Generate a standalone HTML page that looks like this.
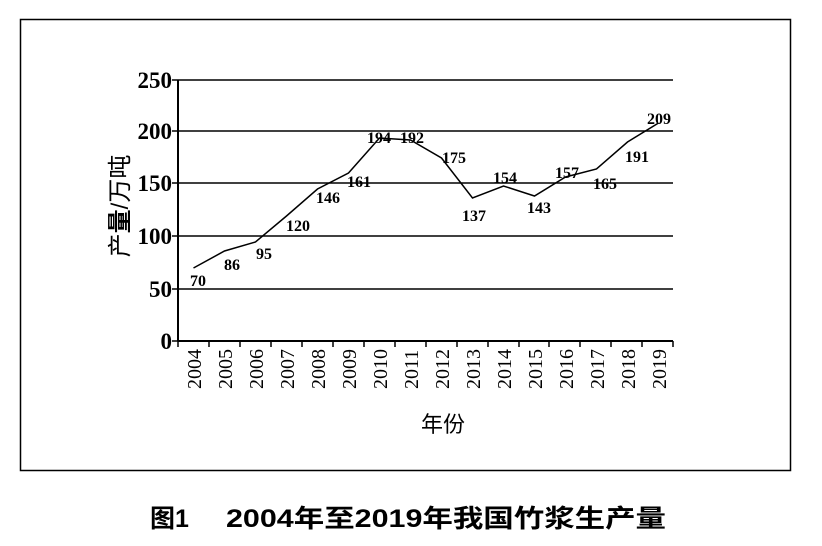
<!DOCTYPE html>
<html><head><meta charset="utf-8"><style>body{margin:0;background:#fff}</style></head>
<body>
<svg width="822" height="541" xmlns="http://www.w3.org/2000/svg">
<rect x="20.5" y="19.5" width="770" height="451" fill="none" stroke="#000" stroke-width="1.5"/>
<g stroke="#000" stroke-width="1.5">
<line x1="178" y1="80" x2="673" y2="80"/>
<line x1="178" y1="131" x2="673" y2="131"/>
<line x1="178" y1="183" x2="673" y2="183"/>
<line x1="178" y1="236" x2="673" y2="236"/>
<line x1="178" y1="289" x2="673" y2="289"/>
<line x1="178" y1="341" x2="673" y2="341" stroke-width="2"/>
<line x1="178" y1="80" x2="178" y2="341" stroke-width="2"/>
<line x1="172" y1="80" x2="178" y2="80"/><line x1="172" y1="131" x2="178" y2="131"/><line x1="172" y1="183" x2="178" y2="183"/><line x1="172" y1="236" x2="178" y2="236"/><line x1="172" y1="289" x2="178" y2="289"/><line x1="172" y1="341" x2="178" y2="341"/>
</g>
<g stroke="#000" stroke-width="1.5">
<path d="M178 341v6M209 341v6M240 341v6M271 341v6M302 341v6M333 341v6M364 341v6M395 341v6M426 341v6M457 341v6M488 341v6M519 341v6M549 341v6M580 341v6M611 341v6M642 341v6M673 341v6"/>
</g>
<polyline fill="none" stroke="#000" stroke-width="1.5" points="193.5,268 224.5,251 255.5,242 286.5,216 317.5,189 348.5,173 379.5,138 410.5,140 441.5,158 472.5,198 503.5,186 534.5,196 565.5,177 596.5,169 627.5,142 658.5,123"/>
<g font-family="Liberation Serif, serif" font-weight="bold" font-size="23" text-anchor="end">
<text x="172" y="88">250</text><text x="172" y="139">200</text><text x="172" y="191">150</text><text x="172" y="244">100</text><text x="172" y="297">50</text><text x="172" y="349">0</text>
</g>
<g font-family="Liberation Serif, serif" font-weight="bold" font-size="16">
<text x="190" y="286">70</text><text x="224" y="270">86</text><text x="256" y="259">95</text><text x="286" y="231">120</text><text x="316" y="203">146</text><text x="347" y="187">161</text><text x="367" y="143">194</text><text x="400" y="143">192</text><text x="442" y="163">175</text><text x="462" y="221">137</text><text x="493" y="183">154</text><text x="527" y="213">143</text><text x="555" y="178">157</text><text x="593" y="189">165</text><text x="625" y="162">191</text><text x="647" y="124">209</text>
</g>
<g font-family="Liberation Serif, serif" font-size="20">
<text transform="translate(201,389) rotate(-90)">2004</text>
<text transform="translate(232,389) rotate(-90)">2005</text>
<text transform="translate(263,389) rotate(-90)">2006</text>
<text transform="translate(294,389) rotate(-90)">2007</text>
<text transform="translate(325,389) rotate(-90)">2008</text>
<text transform="translate(356,389) rotate(-90)">2009</text>
<text transform="translate(387,389) rotate(-90)">2010</text>
<text transform="translate(418,389) rotate(-90)">2011</text>
<text transform="translate(449,389) rotate(-90)">2012</text>
<text transform="translate(480,389) rotate(-90)">2013</text>
<text transform="translate(511,389) rotate(-90)">2014</text>
<text transform="translate(542,389) rotate(-90)">2015</text>
<text transform="translate(573,389) rotate(-90)">2016</text>
<text transform="translate(604,389) rotate(-90)">2017</text>
<text transform="translate(635,389) rotate(-90)">2018</text>
<text transform="translate(666,389) rotate(-90)">2019</text>
</g>
<text x="443" y="432" font-family="Liberation Sans, Noto Sans CJK SC, sans-serif" font-size="22" text-anchor="middle">年份</text>
<text transform="translate(128,206) rotate(-90)" font-family="Liberation Sans, Noto Sans CJK SC, sans-serif" font-size="24" text-anchor="middle">产<tspan font-weight="bold">量</tspan>/万吨</text>
<g font-family="Liberation Sans, Noto Sans CJK SC, sans-serif" font-weight="bold" font-size="25">
<text x="150" y="527">图1</text>
<text x="226" y="527" textLength="440" lengthAdjust="spacingAndGlyphs">2004年至2019年我国竹浆生产量</text>
</g>
</svg>
</body></html>
